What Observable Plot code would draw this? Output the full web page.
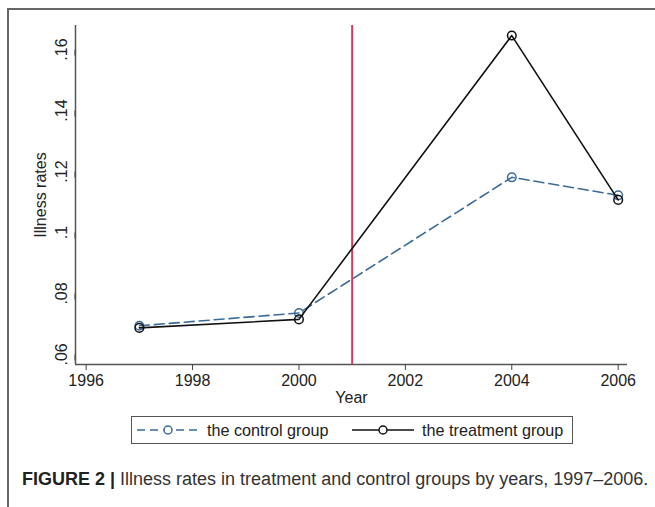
<!DOCTYPE html>
<html><head><meta charset="utf-8">
<script src="https://cdn.jsdelivr.net/npm/d3@7"></script>
<script src="https://cdn.jsdelivr.net/npm/@observablehq/plot@0.6"></script>
<style>
body{margin:0;background:#fff;font-family:"Liberation Sans",Arial,sans-serif;}
#wrap{position:relative;width:655px;height:507px;overflow:hidden;background:#fff;}
#frame{position:absolute;left:7px;top:8px;width:700px;height:600px;border-left:2px solid #666;border-top:2px solid #666;}
#chart{position:absolute;left:0;top:0;}
#legend{position:absolute;left:131px;top:416px;width:442px;height:28px;border:1px solid #555;box-sizing:border-box;font-size:16.2px;color:#222;}
#legend .it{position:absolute;top:0;height:26px;line-height:26px;white-space:nowrap;}
#legend svg{position:absolute;top:7px;}
#caption{position:absolute;left:22px;top:469px;font-size:18px;color:#333;white-space:nowrap;}
#caption b{font-weight:bold;color:#222;}
</style></head>
<body>
<div id="wrap">
  <div id="frame"></div>
  <div id="chart"></div>
  <div id="legend"></div>
  <div id="caption"></div>
</div>
<script>
// ---- data ----
const years = [1997, 2000, 2004, 2006];
const controlRates = [0.0694, 0.0736, 0.1181, 0.1122];
const treatmentRates = [0.0687, 0.0715, 0.1646, 0.1107];
const seriesNames = ["the control group", "the treatment group"];
const xTicks = [1996, 1998, 2000, 2002, 2004, 2006];
const yTicks = [0.06, 0.08, 0.10, 0.12, 0.14, 0.16];
const interventionYear = [2001];
const xDomain = [1995.8, 2006.175];
const yDomain = [0.0567, 0.1679];
const captionBold = "FIGURE 2 |";
const captionText = " Illness rates in treatment and control groups by years, 1997\u20132006.";

const controlColor = "#3a6b98";
const treatColor = "#111";
const redColor = "#d63a5f";
const FS = 16;

const controlData = years.map((y, i) => ({year: y, rate: controlRates[i]}));
const treatData = years.map((y, i) => ({year: y, rate: treatmentRates[i]}));

const chart = Plot.plot({
  width: 655, height: 410,
  marginLeft: 75, marginRight: 28, marginTop: 25, marginBottom: 46,
  style: {fontFamily: "Liberation Sans, Arial, sans-serif", fontSize: FS + "px", color: "#222", background: "transparent"},
  x: {domain: xDomain},
  y: {domain: yDomain},
  marks: [
    Plot.ruleX([xDomain[0]], {stroke: "#555", strokeWidth: 1.5}),
    Plot.ruleY([yDomain[0]], {stroke: "#555", strokeWidth: 1.5}),
    Plot.axisX(xTicks, {tickFormat: d => String(d), tickSize: 6, tickPadding: 4, stroke: "#444", fontSize: FS,
      label: "Year", labelAnchor: "center", labelOffset: 38, labelArrow: "none"}),
    Plot.axisY(yTicks, {tickFormat: d => String(d).replace(/^0\./, "."), tickSize: 6, tickPadding: 8, fontSize: FS,
      rotate: -90, textAnchor: "middle", stroke: "#444",
      label: "Illness rates", labelAnchor: "center", labelOffset: 41, labelArrow: "none"}),
    Plot.ruleX(interventionYear, {stroke: redColor, strokeWidth: 2}),
    Plot.line(controlData, {x: "year", y: "rate", stroke: controlColor, strokeWidth: 1.6, strokeDasharray: "10,5"}),
    Plot.dot(controlData, {x: "year", y: "rate", r: 4.3, stroke: controlColor, strokeWidth: 1.5, fill: "none"}),
    Plot.line(treatData, {x: "year", y: "rate", stroke: treatColor, strokeWidth: 1.6}),
    Plot.dot(treatData, {x: "year", y: "rate", r: 4.3, stroke: treatColor, strokeWidth: 1.5, fill: "none"})
  ]
});
document.getElementById("chart").appendChild(chart);

// legend
const legend = document.getElementById("legend");
function swatch(left, color, dash) {
  const ns = "http://www.w3.org/2000/svg";
  const s = document.createElementNS(ns, "svg");
  s.setAttribute("width", 62); s.setAttribute("height", 12);
  s.style.left = left + "px";
  const l = document.createElementNS(ns, "line");
  l.setAttribute("x1", 0); l.setAttribute("x2", 62); l.setAttribute("y1", 6); l.setAttribute("y2", 6);
  l.setAttribute("stroke", color); l.setAttribute("stroke-width", 1.6);
  if (dash) l.setAttribute("stroke-dasharray", dash);
  const c = document.createElementNS(ns, "circle");
  c.setAttribute("cx", 31); c.setAttribute("cy", 6); c.setAttribute("r", 4);
  c.setAttribute("fill", "#fff"); c.setAttribute("stroke", color); c.setAttribute("stroke-width", 1.5);
  s.appendChild(l); s.appendChild(c);
  legend.appendChild(s);
}
function label(left, text) {
  const d = document.createElement("div");
  d.className = "it"; d.style.left = left + "px"; d.textContent = text;
  legend.appendChild(d);
}
swatch(5, controlColor, "8,5");
label(75, seriesNames[0]);
swatch(220, treatColor, null);
label(290, seriesNames[1]);

const cap = document.getElementById("caption");
const b = document.createElement("b"); b.textContent = captionBold;
cap.appendChild(b);
cap.appendChild(document.createTextNode(captionText));
</script>
</body></html>
